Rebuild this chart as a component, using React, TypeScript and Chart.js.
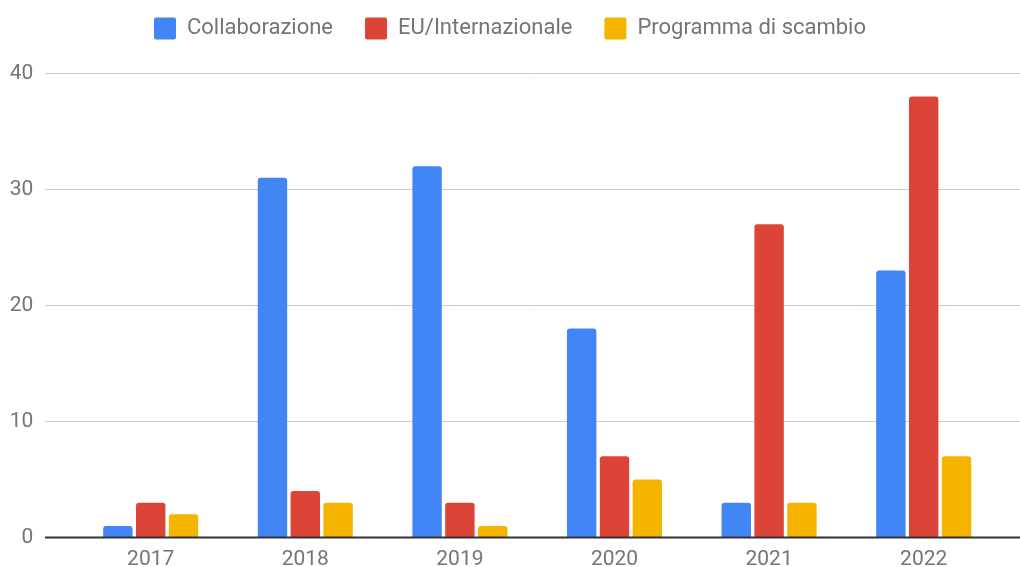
import React, { useEffect, useRef } from "react";
import { Chart, registerables } from "chart.js";

Chart.register(...registerables);

const years = ["2017", "2018", "2019", "2020", "2021", "2022"];
const collaborazione = [1, 31, 32, 18, 3, 23];
const euInternazionale = [3, 4, 3, 7, 27, 38];
const programmaScambio = [2, 3, 1, 5, 3, 7];
const seriesNames = ["Collaborazione", "EU/Internazionale", "Programma di scambio"];
const seriesColors = ["#4285F4", "#DB4437", "#F4B400"];

const FONT = "Roboto";
const TEXT = "#757575";
const LEGEND_TOP = -14.5;
const PLOT_TOP = 73.3;

const gridPlugin = {
  id: "wideGrid",
  beforeDraw(chart: any) {
    if (chart.legend) {
      const h = chart.legend.height;
      chart.legend.top = LEGEND_TOP;
      chart.legend.bottom = LEGEND_TOP + h;
    }
  },
  beforeDatasetsDraw(chart: any) {
    const y = chart.scales.y;
    const ctx = chart.ctx;
    ctx.save();
    ctx.strokeStyle = "#cccccc";
    ctx.lineWidth = 1;
    y.ticks.forEach((t: any) => {
      if (t.value === 0) return;
      const py = Math.round(y.getPixelForValue(t.value)) + 0.5;
      ctx.beginPath();
      ctx.moveTo(45, py);
      ctx.lineTo(chart.width, py);
      ctx.stroke();
    });
    ctx.restore();
  },
  afterDatasetsDraw(chart: any) {
    const y = chart.scales.y;
    const ctx = chart.ctx;
    ctx.save();
    ctx.strokeStyle = "#333333";
    ctx.lineWidth = 2;
    const py = y.getPixelForValue(0);
    ctx.beginPath();
    ctx.moveTo(45, py);
    ctx.lineTo(chart.width, py);
    ctx.stroke();
    ctx.restore();
  },
};

export default function App() {
  const ref = useRef<HTMLCanvasElement | null>(null);

  useEffect(() => {
    if (!ref.current) return;
    const values = [collaborazione, euInternazionale, programmaScambio];
    const chart = new Chart(ref.current, {
      type: "bar",
      data: {
        labels: years,
        datasets: values.map((v, i) => ({
          label: seriesNames[i],
          data: v,
          xAxisID: "x",
          yAxisID: "y",
          backgroundColor: seriesColors[i],
          borderWidth: 0,
          borderRadius: 3,
          borderSkipped: "start",
          categoryPercentage: 0.637,
          barPercentage: 0.896,
        })),
      },
      options: {
        animation: false,
        responsive: false,
        layout: { padding: 0 },
        plugins: {
          tooltip: { enabled: false },
          legend: {
            position: "top",
            labels: {
              boxWidth: 22,
              boxHeight: 22,
              padding: 32,
              color: TEXT,
              font: { family: FONT, size: 22 },
              useBorderRadius: true,
              borderRadius: 2,
            },
          },
        },
        scales: {
          x: {
            position: "bottom",
            grid: { display: false },
            border: { display: false },
            ticks: { color: TEXT, font: { family: FONT, size: 21 }, padding: 2 },
            afterFit: (s: any) => {
              s.height = 29.5;
            },
          },
          xTop: {
            type: "category",
            position: "top",
            grid: { display: false },
            border: { display: false },
            ticks: { display: false },
            afterFit: (s: any) => {
              const lh = s.chart && s.chart.legend ? s.chart.legend.height : 66;
              s.height = Math.max(0, PLOT_TOP - lh);
            },
          },
          y: {
            position: "left",
            min: 0,
            max: 40,
            grid: { display: false },
            border: { display: false },
            ticks: { stepSize: 10, color: TEXT, font: { family: FONT, size: 21 }, padding: 32 },
            afterFit: (s: any) => {
              s.width = 73.4;
              s.paddingTop = 12;
              s.paddingBottom = 12;
            },
          },
          yRight: {
            type: "linear",
            position: "right",
            grid: { display: false },
            border: { display: false },
            ticks: { display: false },
            afterFit: (s: any) => {
              s.width = 19;
            },
          },
        },
      },
      plugins: [gridPlugin],
    });
    return () => chart.destroy();
  }, []);

  return (
    <div style={{ position: "absolute", left: 0, top: 0, width: 1020, height: 567, background: "#fff" }}>
      <canvas ref={ref} width={1020} height={567} style={{ display: "block" }} />
    </div>
  );
}
